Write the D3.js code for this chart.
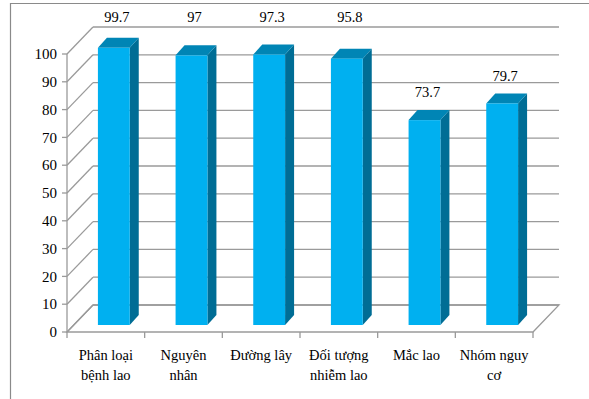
<!DOCTYPE html>
<html>
<head>
<meta charset="utf-8">
<script src="https://cdn.jsdelivr.net/npm/d3@7"></script>
<style>
  body { margin: 0; background: #fff; }
</style>
</head>
<body>
<div id="chart"></div>
<script>
// chart data
var categories = ["Phân loại\nbệnh lao", "Nguyên\nnhân", "Đường lây", "Đối tượng\nnhiễm lao", "Mắc lao", "Nhóm nguy\ncơ"];
var values = [99.7, 97, 97.3, 95.8, 73.7, 79.7];
var yTicks = [0, 10, 20, 30, 40, 50, 60, 70, 80, 90, 100];

var W = 589, H = 399;
var depth = { dx: 26, dy: -27 };   // wall / floor depth
var barOff = { dx: 8, dy: -7 };    // bar front plane inside the floor
var barDepth = { dx: 9, dy: -10 };
var font = "'Liberation Serif'";
var fs = "14.5px";

var svg = d3.select("#chart").append("svg")
  .attr("width", W).attr("height", H);

// outer frame (only top and left show)
svg.append("line").attr("x1", 10).attr("x2", W).attr("y1", 3.5).attr("y2", 3.5)
  .attr("stroke", "#8a8a8a").attr("stroke-width", 1.2);
svg.append("line").attr("x1", 10.5).attr("x2", 10.5).attr("y1", 3).attr("y2", H)
  .attr("stroke", "#8a8a8a").attr("stroke-width", 1.2);

var x = d3.scaleBand().domain(categories).range([67, 533]).paddingInner(0.59).paddingOuter(0.295);
var band = d3.scaleBand().domain(categories).range([67, 533]);
var y = d3.scaleLinear().domain([0, 100]).range([332, 54]);

var grid = "#9a9a9a";

// back wall gridlines + left wall diagonals
svg.selectAll(".grid").data(yTicks).enter().append("line")
  .attr("class", "grid")
  .attr("x1", 67 + depth.dx).attr("x2", 533 + depth.dx)
  .attr("y1", function(d) { return y(d) + depth.dy; })
  .attr("y2", function(d) { return y(d) + depth.dy; })
  .attr("stroke", grid).attr("stroke-width", 1.3);

svg.selectAll(".diag").data(yTicks).enter().append("line")
  .attr("class", "diag")
  .attr("x1", 67).attr("x2", 67 + depth.dx)
  .attr("y1", function(d) { return y(d); })
  .attr("y2", function(d) { return y(d) + depth.dy; })
  .attr("stroke", grid).attr("stroke-width", 1.3);

// floor
svg.append("polygon")
  .attr("points", [[67, y(0)], [533, y(0)], [533 + depth.dx, y(0) + depth.dy], [67 + depth.dx, y(0) + depth.dy]].join(" "))
  .attr("fill", "none").attr("stroke", grid).attr("stroke-width", 1.3);

// y axis
svg.append("line").attr("x1", 67).attr("x2", 67).attr("y1", y(100)).attr("y2", y(0))
  .attr("stroke", grid).attr("stroke-width", 1.3);
svg.selectAll(".ytick").data(yTicks).enter().append("line")
  .attr("x1", 62).attr("x2", 67)
  .attr("y1", function(d) { return y(d); }).attr("y2", function(d) { return y(d); })
  .attr("stroke", grid).attr("stroke-width", 1.3);
svg.selectAll(".ylab").data(yTicks).enter().append("text")
  .attr("x", 57).attr("y", function(d) { return y(d); })
  .attr("dy", "0.35em").attr("text-anchor", "end")
  .style("font-family", font).style("font-size", "15px")
  .text(function(d) { return d; });

// category ticks
var edges = categories.map(function(c) { return band(c); }).concat([533]);
svg.selectAll(".xtick").data(edges).enter().append("line")
  .attr("x1", function(d) { return d; }).attr("x2", function(d) { return d; })
  .attr("y1", y(0)).attr("y2", y(0) + 6)
  .attr("stroke", grid).attr("stroke-width", 1.3);

// bars
var bars = svg.selectAll(".bar").data(values).enter().append("g").attr("class", "bar");
function bx(d, i) { return x(categories[i]) + barOff.dx; }
var bw = x.bandwidth();
var by0 = y(0) + barOff.dy;

bars.append("polygon") // side
  .attr("points", function(d, i) {
    var x0 = bx(d, i) + bw, yt = y(d) + barOff.dy;
    return [[x0, by0], [x0 + barDepth.dx, by0 + barDepth.dy], [x0 + barDepth.dx, yt + barDepth.dy], [x0, yt]].join(" ");
  })
  .attr("fill", "#006d95");
bars.append("polygon") // top
  .attr("points", function(d, i) {
    var x0 = bx(d, i), yt = y(d) + barOff.dy;
    return [[x0, yt], [x0 + bw, yt], [x0 + bw + barDepth.dx, yt + barDepth.dy], [x0 + barDepth.dx, yt + barDepth.dy]].join(" ");
  })
  .attr("fill", "#0085b5");
bars.append("rect") // front
  .attr("x", bx)
  .attr("y", function(d) { return y(d) + barOff.dy; })
  .attr("width", bw)
  .attr("height", function(d) { return by0 - (y(d) + barOff.dy); })
  .attr("fill", "#00b0f0");

// value labels - labels of tall bars sit on the top edge of the plot
svg.selectAll(".vlab").data(values).enter().append("text")
  .attr("x", function(d, i) { return bx(d, i) + bw / 2 + 3; })
  .attr("y", function(d) {
    var ly = y(d) + barOff.dy - 28;
    return ly < 40 ? 17 : ly;
  })
  .attr("dy", "0.35em").attr("text-anchor", "middle")
  .style("font-family", font).style("font-size", fs)
  .text(function(d) { return d; });

// category labels
var cl = svg.selectAll(".clab").data(categories).enter().append("text")
  .attr("text-anchor", "middle")
  .style("font-family", font).style("font-size", fs)
  .attr("transform", function(d) { return "translate(" + (band(d) + band.bandwidth() / 2) + ",355)"; });
cl.selectAll("tspan").data(function(d) { return d.split("\n"); }).enter().append("tspan")
  .attr("x", 0).attr("y", function(d, i) { return i * 20; })
  .attr("dy", "0.35em")
  .text(function(d) { return d; });
</script>
</body>
</html>
